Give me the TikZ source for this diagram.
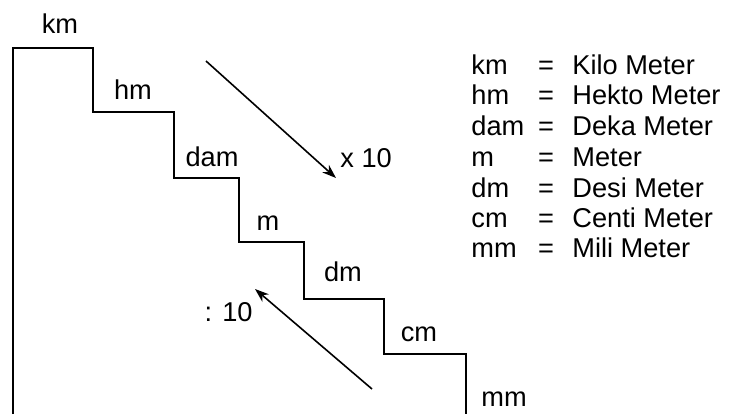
\documentclass[tikz,border=0pt]{standalone}
\usepackage{fontspec}
\setmainfont{Liberation Sans}
\usetikzlibrary{arrows.meta, positioning}

\begin{document}
\begin{tikzpicture}[
    x=0.5pt, y=-0.5pt,
    every node/.style={font=\fontsize{13.6}{16}\selectfont, inner sep=0pt},
    steplabel/.style={anchor=base},
    abbr/.style={anchor=base west},
    eqsign/.style={anchor=base},
    fullname/.style={anchor=base west},
    stairline/.style={line width=1.1pt},
    arr/.style={-{Stealth[length=7pt, width=5pt]}, line width=0.8pt}
]
\useasboundingbox (0,0) rectangle (732,414);

% stairs
\draw[stairline] (13,414) -- (13,48) -- (93,48) -- (93,112) -- (174,112)
    -- (174,178) -- (239,178) -- (239,242) -- (304,242) -- (304,299)
    -- (384,299) -- (384,354) -- (466,354) -- (466,414);

\node[steplabel] (km)  at (60,33)   {km};
\node[steplabel] (hm)  at (133,99)  {hm};
\node[steplabel] (dam) at (212,166) {dam};
\node[steplabel] (m)   at (268,230) {m};
\node[steplabel] (dm)  at (343,281) {dm};
\node[steplabel] (cm)  at (419,341) {cm};
\node[steplabel] (mm)  at (504,406) {mm};

% arrows
\coordinate (downstart) at (206,61);
\coordinate (downend)   at (336,178);
\coordinate (upstart)   at (372,389);
\coordinate (upend)     at (255,289);
\draw[arr] (downstart) -- (downend);
\draw[arr] (upstart) -- (upend);
\node[anchor=west] (times) at (340,158) {x 10};
\node[anchor=east] (divide) at (253,312) {: 10};

% legend
\node[abbr] (lkm)  at (471,74)  {km};
\node[abbr] (lhm)  at (471,104) {hm};
\node[abbr] (ldam) at (471,135) {dam};
\node[abbr] (lm)   at (471,166) {m};
\node[abbr] (ldm)  at (471,197) {dm};
\node[abbr] (lcm)  at (471,227) {cm};
\node[abbr] (lmm)  at (471,257) {mm};

\node[eqsign] (ekm)  at (546,74)  {=};
\node[eqsign] (ehm)  at (546,104) {=};
\node[eqsign] (edam) at (546,135) {=};
\node[eqsign] (em)   at (546,166) {=};
\node[eqsign] (edm)  at (546,197) {=};
\node[eqsign] (ecm)  at (546,227) {=};
\node[eqsign] (emm)  at (546,257) {=};

\node[fullname] (nkm)  at (572,74)  {Kilo Meter};
\node[fullname] (nhm)  at (572,104) {Hekto Meter};
\node[fullname] (ndam) at (572,135) {Deka Meter};
\node[fullname] (nm)   at (572,166) {Meter};
\node[fullname] (ndm)  at (572,197) {Desi Meter};
\node[fullname] (ncm)  at (572,227) {Centi Meter};
\node[fullname] (nmm)  at (572,257) {Mili Meter};
\end{tikzpicture}
\end{document}
